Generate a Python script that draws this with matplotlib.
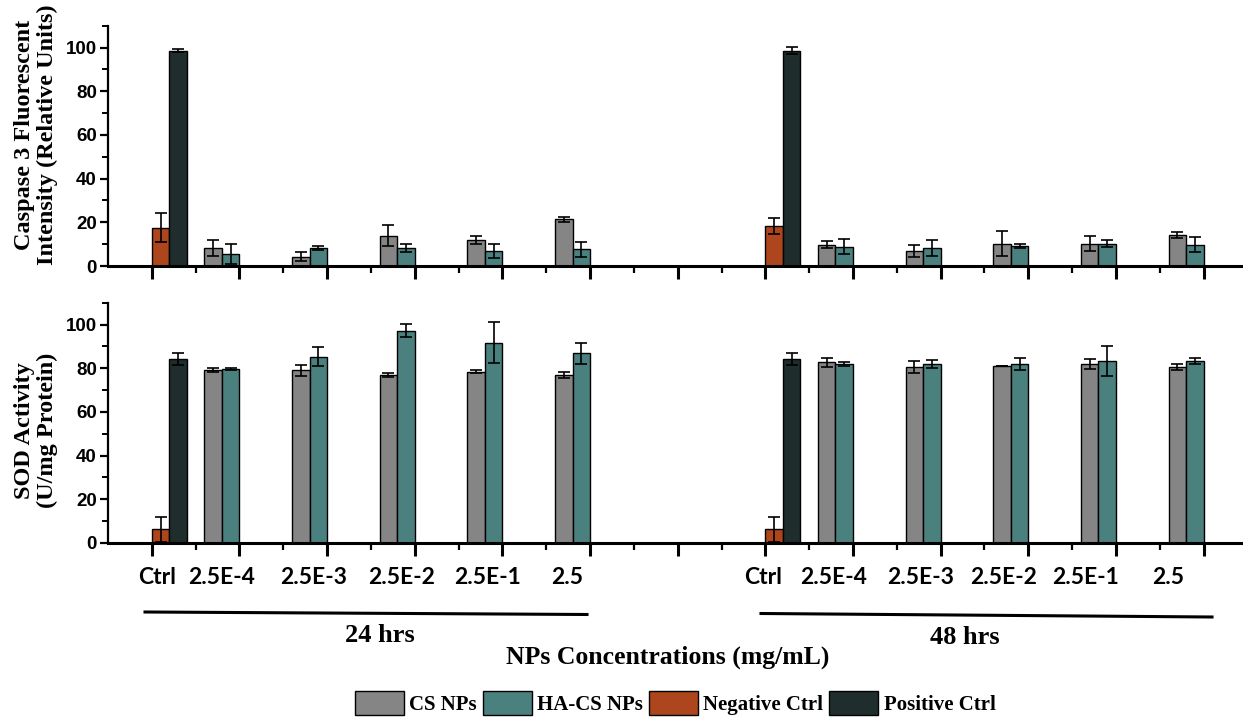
import numpy as np
import matplotlib
matplotlib.use('Agg')
import matplotlib.pyplot as plt
from matplotlib.patches import Patch
from matplotlib.ticker import MultipleLocator

# concentrations (mg/mL)
conc = ['2.5E-4', '2.5E-3', '2.5E-2', '2.5E-1', '2.5']
times = ['24 hrs', '48 hrs']

# caspase 3 (relative units)
casp_cs_24 = [8.3, 4.2, 13.9, 11.9, 21.3]
casp_cs_24_err = [3.5, 2.1, 4.7, 2.0, 1.0]
casp_ha_24 = [5.5, 8.2, 8.2, 6.9, 7.6]
casp_ha_24_err = [4.8, 1.0, 1.7, 3.4, 3.5]
casp_cs_48 = [9.8, 6.8, 10.3, 10.3, 14.2]
casp_cs_48_err = [1.5, 2.9, 5.7, 3.6, 1.2]
casp_ha_48 = [8.9, 8.2, 9.1, 10.3, 9.7]
casp_ha_48_err = [3.5, 3.7, 0.8, 1.7, 3.4]
casp_neg = [17.5, 18.3]
casp_neg_err = [6.7, 3.5]
casp_pos = [98.6, 98.6]
casp_pos_err = [0.7, 1.5]

# SOD activity (U/mg protein)
sod_cs_24 = [79.2, 79.2, 76.9, 78.5, 76.9]
sod_cs_24_err = [1.0, 2.5, 1.0, 0.5, 1.5]
sod_ha_24 = [79.8, 85.4, 97.2, 91.8, 86.9]
sod_ha_24_err = [0.5, 4.2, 3.0, 9.5, 4.9]
sod_cs_48 = [82.8, 80.6, 81.2, 82.0, 80.6]
sod_cs_48_err = [2.1, 2.8, 0.0, 2.2, 1.5]
sod_ha_48 = [82.0, 82.0, 82.0, 83.4, 83.4]
sod_ha_48_err = [1.0, 2.0, 2.9, 6.9, 1.5]
sod_neg = [6.2, 6.2]
sod_neg_err = [5.7, 5.7]
sod_pos = [84.2, 84.2]
sod_pos_err = [2.7, 2.7]

c_cs = '#858585'
c_ha = '#4a807e'
c_neg = '#ae461d'
c_pos = '#1f2e2c'

serif = 'Liberation Serif'
sans = 'Liberation Sans'

# where the category names sit under the axis (the original places them by hand)
lab_x = [[1.12, 2.58, 4.7, 6.69, 8.65, 10.48],
         [14.95, 16.55, 18.54, 20.43, 22.31, 24.18]]

fig = plt.figure(figsize=(12.43, 7.17), dpi=100)
ax1 = fig.add_axes([0.0869, 0.629, 0.9131, 0.335])
ax2 = fig.add_axes([0.0869, 0.2427, 0.9131, 0.335])

w = 0.4
shift = 14  # offset of the 48 hrs block on the x axis
ek = dict(ecolor='black', elinewidth=1.2, capsize=4, capthick=1.2)


def draw(ax, cs, cs_err, ha, ha_err, neg, neg_err, pos, pos_err):
    for t in range(2):
        x0 = t * shift
        xs = x0 + 2.2 + 2 * np.arange(len(conc))
        ax.bar(xs, cs[t], w, align='edge', color=c_cs, edgecolor='black', lw=1)
        ax.bar(xs + w, ha[t], w, align='edge', color=c_ha, edgecolor='black', lw=1)
        ax.errorbar(xs + w / 2, cs[t], yerr=cs_err[t], fmt='none', **ek)
        ax.errorbar(xs + 1.5 * w, ha[t], yerr=ha_err[t], fmt='none', **ek)
        ax.bar(x0 + 1.0, neg[t], w, align='edge', color=c_neg, edgecolor='black', lw=1)
        ax.bar(x0 + 1.0 + w, pos[t], w, align='edge', color=c_pos, edgecolor='black', lw=1)
        ax.errorbar(x0 + 1.0 + w / 2, neg[t], yerr=neg_err[t], fmt='none', **ek)
        ax.errorbar(x0 + 1.0 + 1.5 * w, pos[t], yerr=pos_err[t], fmt='none', **ek)

    ax.set_xlim(0, 25.9)
    ax.set_ylim(0, 110)
    ax.spines['top'].set_visible(False)
    ax.spines['right'].set_visible(False)
    ax.spines['bottom'].set_linewidth(2.2)
    ax.spines['left'].set_linewidth(1.6)
    ax.set_xticks(np.arange(1, 26, 2))
    ax.set_xticks(np.arange(2, 26, 2), minor=True)
    ax.set_xticklabels([])
    ax.yaxis.set_major_locator(MultipleLocator(20))
    ax.yaxis.set_minor_locator(MultipleLocator(10))
    ax.tick_params(axis='x', which='major', length=9, width=2.2)
    ax.tick_params(axis='x', which='minor', length=5, width=1.6)
    ax.tick_params(axis='y', which='major', length=6, width=1.6, pad=2)
    ax.tick_params(axis='y', which='minor', length=4, width=1.4)
    for lb in ax.get_yticklabels():
        lb.set_fontfamily(sans)
        lb.set_fontweight('bold')
        lb.set_fontsize(13.5)


draw(ax1, [casp_cs_24, casp_cs_48], [casp_cs_24_err, casp_cs_48_err],
     [casp_ha_24, casp_ha_48], [casp_ha_24_err, casp_ha_48_err],
     casp_neg, casp_neg_err, casp_pos, casp_pos_err)
draw(ax2, [sod_cs_24, sod_cs_48], [sod_cs_24_err, sod_cs_48_err],
     [sod_ha_24, sod_ha_48], [sod_ha_24_err, sod_ha_48_err],
     sod_neg, sod_neg_err, sod_pos, sod_pos_err)

# y labels
fig.text(0.029, 0.812, 'Caspase 3 Fluorescent\nIntensity (Relative Units)', rotation=90,
         ha='center', va='center', family=serif, weight='bold', fontsize=17.5, linespacing=1.1)
fig.text(0.029, 0.40, 'SOD Activity\n(U/mg Protein)', rotation=90,
         ha='center', va='center', family=serif, weight='bold', fontsize=17.5, linespacing=1.1)

# category labels under the bottom panel
cats = ['Ctrl'] + conc
for t in range(2):
    for xc, lab in zip(lab_x[t], cats):
        ax2.text(xc, -16, lab, ha='center', va='center', family='Lato',
                 weight='bold', fontsize=16.5)

# group lines and time labels
fig.add_artist(plt.Line2D([145 / 1243, 587 / 1243], [1 - 612 / 717, 1 - 614.5 / 717],
                          color='black', lw=2.2))
fig.add_artist(plt.Line2D([761 / 1243, 1212 / 1243], [1 - 613.5 / 717, 1 - 617 / 717],
                          color='black', lw=2.2))
fig.text(380 / 1243, 1 - 636 / 717, times[0], ha='center', va='center',
         family=serif, weight='bold', fontsize=19)
fig.text(965 / 1243, 1 - 637 / 717, times[1], ha='center', va='center',
         family=serif, weight='bold', fontsize=19)
fig.text(668 / 1243, 1 - 657 / 717, 'NPs Concentrations (mg/mL)', ha='center', va='center',
         family=serif, weight='bold', fontsize=18.5)

handles = [Patch(facecolor=c_cs, edgecolor='black', label='CS NPs'),
           Patch(facecolor=c_ha, edgecolor='black', label='HA-CS NPs'),
           Patch(facecolor=c_neg, edgecolor='black', label='Negative Ctrl'),
           Patch(facecolor=c_pos, edgecolor='black', label='Positive Ctrl')]
fig.legend(handles=handles, loc='center', bbox_to_anchor=(675 / 1243, 1 - 703 / 717),
           ncol=4, frameon=False, handlelength=2.35, handleheight=1.4,
           handletextpad=0.25, columnspacing=0.3, borderpad=0.1,
           prop={'family': serif, 'weight': 'bold', 'size': 15})

fig.savefig('out.png', dpi=100)
